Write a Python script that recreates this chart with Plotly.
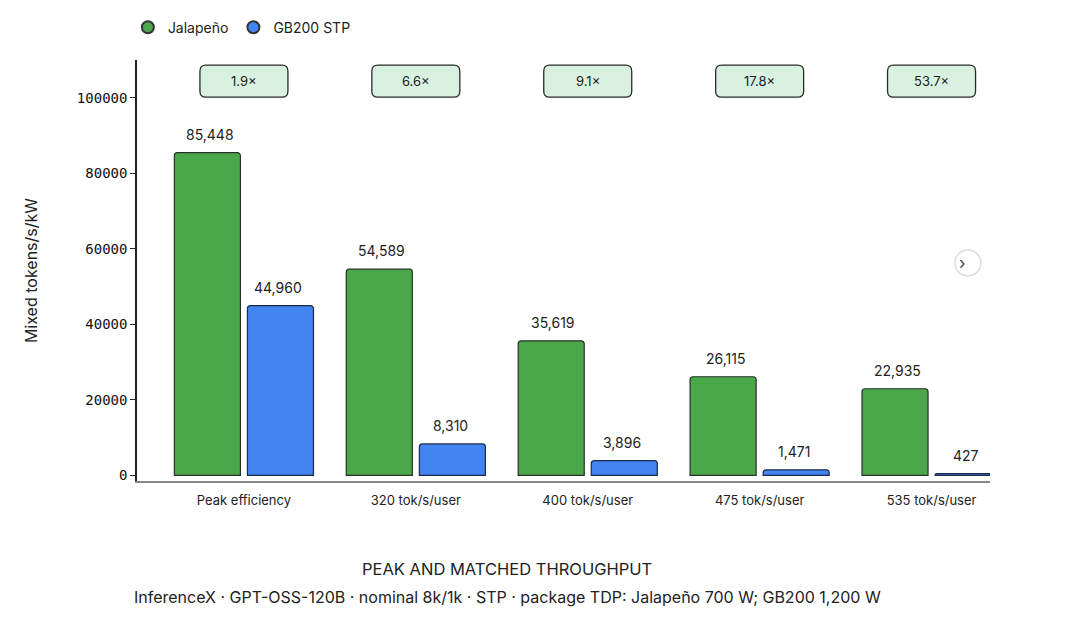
import plotly.graph_objects as go

categories = ['Peak efficiency', '320 tok/s/user', '400 tok/s/user', '475 tok/s/user', '535 tok/s/user']
jalapeno = [85448, 54589, 35619, 26115, 22935]
gb200 = [44960, 8310, 3896, 1471, 427]
y_ticks = [0, 20000, 40000, 60000, 80000, 100000]

green = '#4aa84a'
blue = '#4285f0'
font = 'Inter, Noto Sans, sans-serif'

fig = go.Figure()
fig.add_trace(go.Bar(x=categories, y=jalapeno, name='Jalapeño', showlegend=False, offsetgroup='a',
                     marker=dict(color=green, line=dict(color='#263026', width=1.2), cornerradius=3)))
fig.add_trace(go.Bar(x=categories, y=gb200, name='GB200 STP', showlegend=False, offsetgroup='b',
                     marker=dict(color=blue, line=dict(color='#1c2a4a', width=1.2), cornerradius=3)))

# value labels, lifted a bit above the bars
for vals, shift in [(jalapeno, -0.2), (gb200, 0.2)]:
    for i, v in enumerate(vals):
        fig.add_annotation(x=i + shift, y=v, xref='x', yref='y', text=f'{v:,}', showarrow=False,
                           yanchor='bottom', yshift=8, font=dict(size=14, color='#222', family=font))

# circle markers for the legend
for name, col in [('Jalapeño', green), ('GB200 STP', blue)]:
    fig.add_trace(go.Scatter(x=[None], y=[None], mode='markers', name=name,
                             marker=dict(symbol='circle', size=13, color=col, line=dict(color='#333', width=1))))

# ratio badges above each group
box_path = ('M -38,-16 L 38,-16 Q 44,-16 44,-10 L 44,10 Q 44,16 38,16 '
            'L -38,16 Q -44,16 -44,10 L -44,-10 Q -44,-16 -38,-16 Z')
badge_y = 104400
for i, (a, b) in enumerate(zip(jalapeno, gb200)):
    fig.add_shape(type='path', xref='x', yref='y', xsizemode='pixel', ysizemode='pixel',
                  xanchor=i, yanchor=badge_y, path=box_path,
                  fillcolor='#d9f1e1', line=dict(color='#2a2a2a', width=1.3))
    fig.add_annotation(x=i, y=badge_y, xref='x', yref='y', text=f'{a / b:.1f}×',
                       showarrow=False, font=dict(size=13, color='#222', family=font))

# scroll chevron button
fig.add_shape(type='circle', xref='paper', yref='paper', xsizemode='pixel', ysizemode='pixel',
              xanchor=0.974, yanchor=0.518, x0=-13, x1=13, y0=-13, y1=13,
              fillcolor='white', line=dict(color='#dddddd', width=1.5))
fig.add_annotation(x=0.974, y=0.518, xref='paper', yref='paper', text='›', showarrow=False,
                   font=dict(size=17, color='#444', family=font))

fig.add_annotation(x=0.434, y=-0.209, xref='paper', yref='paper', yanchor='middle',
                   text='PEAK AND MATCHED THROUGHPUT',
                   showarrow=False, font=dict(size=16.5, color='#222', family=font))
fig.add_annotation(x=0.434, y=-0.276, xref='paper', yref='paper', yanchor='middle',
                   text='InferenceX · GPT-OSS-120B · nominal 8k/1k · STP · package TDP: Jalapeño 700 W; GB200 1,200 W',
                   showarrow=False, font=dict(size=16, color='#222', family=font))

fig.update_layout(
    width=1080, height=635,
    margin=dict(l=129, r=98, t=52, b=162, autoexpand=False),
    paper_bgcolor='white', plot_bgcolor='white',
    font=dict(family=font, color='#222'),
    barmode='group', bargap=0.15, bargroupgap=0.096,
    showlegend=True,
    legend=dict(orientation='h', x=0.111, xanchor='left', xref='container',
                y=0.969, yanchor='middle', yref='container',
                font=dict(size=14, color='#222'), itemsizing='constant'),
    xaxis=dict(range=[-0.622, 4.34], showline=True, linecolor='#888', linewidth=1.5,
               ticks='', ticklabelstandoff=7, tickfont=dict(size=13, color='#222'), showgrid=False),
    yaxis=dict(range=[-1500, 110000], tickvals=y_ticks, tickformat='d', showline=True,
               linecolor='#222', linewidth=1.5, ticks='outside', ticklen=5, tickcolor='#222',
               tickfont=dict(family='DejaVu Sans Mono, monospace', size=14, color='#111'),
               showgrid=False, zeroline=False,
               title=dict(text='Mixed tokens/s/kW', font=dict(size=16, color='#222'), standoff=35)),
)

fig.write_html('out.html')
